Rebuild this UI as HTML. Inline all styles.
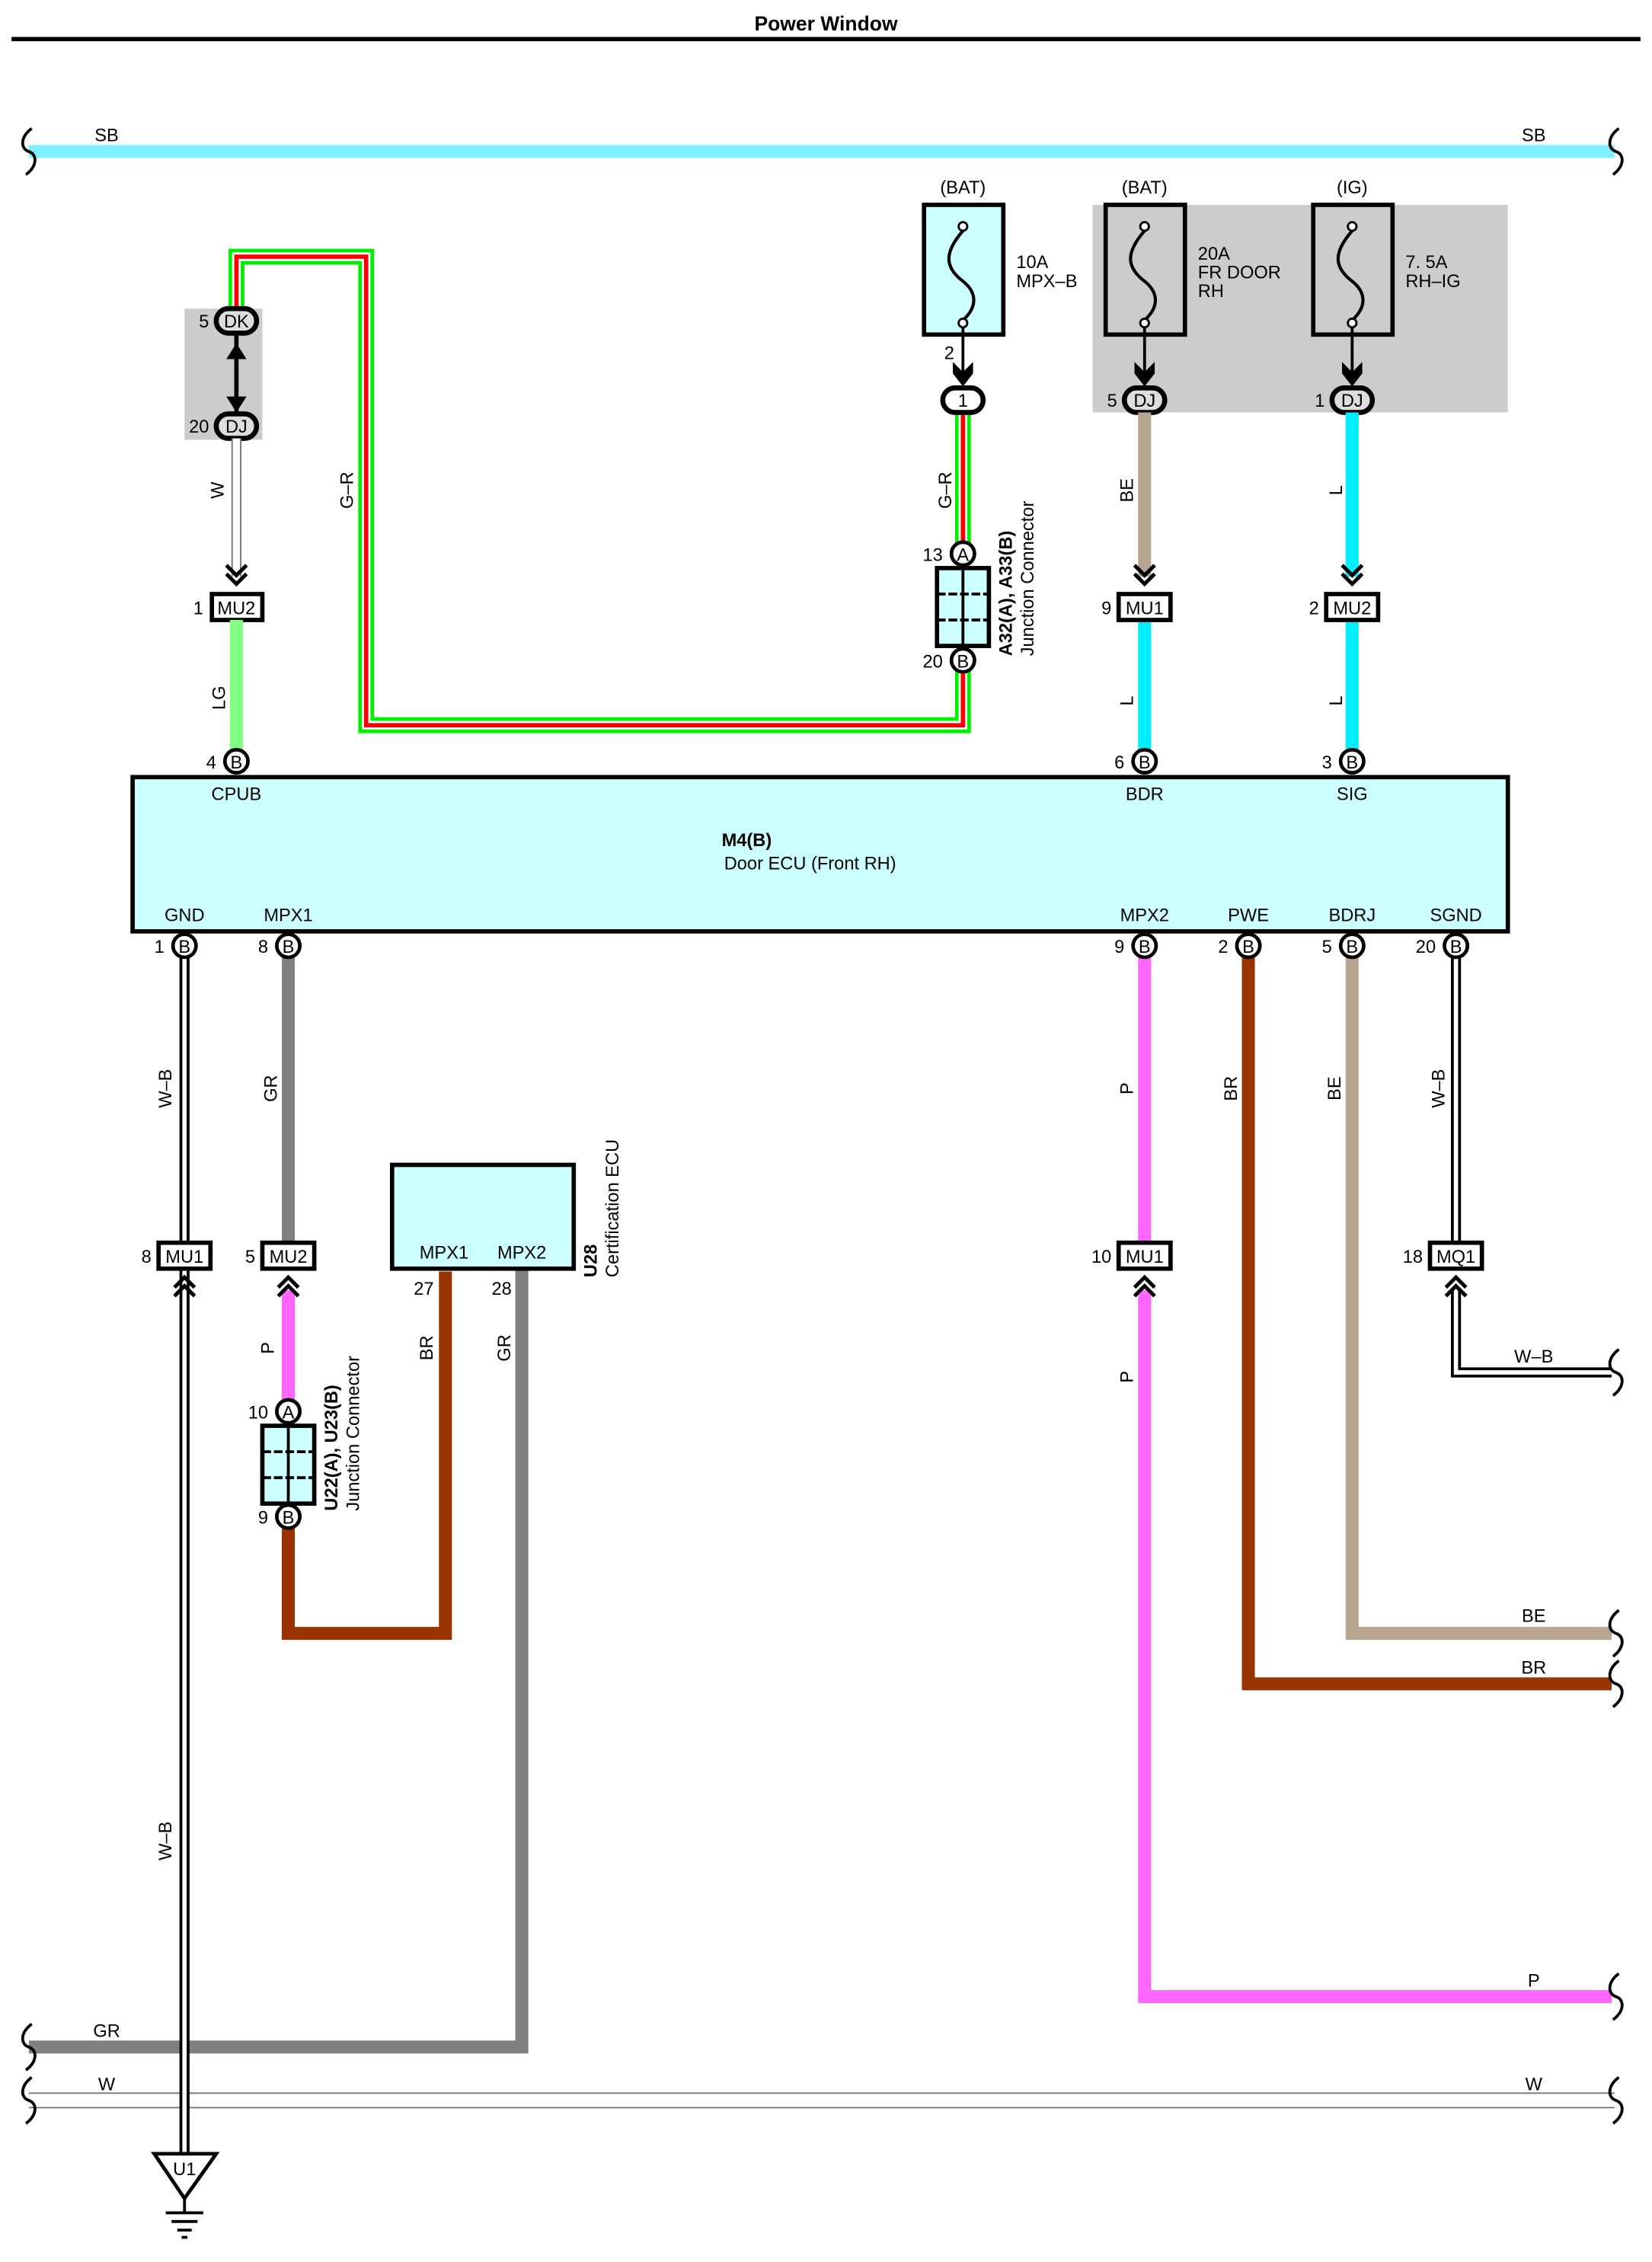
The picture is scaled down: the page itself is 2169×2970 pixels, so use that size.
<!DOCTYPE html>
<html><head><meta charset="utf-8"><style>
html,body{margin:0;padding:0;background:#fff}
svg{display:block}
text{font-family:"Liberation Sans",Arial,sans-serif;font-size:12.5px;fill:#000}
</style></head><body>
<svg width="2169" height="2970" viewBox="0 0 1146 1569" xmlns="http://www.w3.org/2000/svg">
<defs>
<g id="chevD"><path d="M-7,-8 L0,-1 L7,-8 M-7,-2 L0,5 L7,-2" fill="none" stroke="#000" stroke-width="2.6"/></g>
<g id="chevU"><path d="M-7,8 L0,1 L7,8 M-7,2 L0,-5 L7,2" fill="none" stroke="#000" stroke-width="2.6"/></g>
<g id="sq"><path d="M2,-16 C-6,-10 -6,-2 0,0 C6,2 6,10 -2,16" fill="none" stroke="#000" stroke-width="2"/></g>
</defs>
<text x="573" y="21" text-anchor="middle" style="font-weight:bold;font-size:14px">Power Window</text>
<line x1="8" y1="27" x2="1138" y2="27" stroke="#000" stroke-width="3"/>

<line x1="20" y1="105" x2="1120" y2="105" stroke="#80f0ff" stroke-width="9"/>
<use href="#sq" x="20" y="105"/><use href="#sq" x="1121" y="105"/>
<text x="74" y="98" text-anchor="middle">SB</text><text x="1064" y="98" text-anchor="middle">SB</text>

<rect x="128" y="214" width="54" height="91" fill="#cccccc"/>
<rect x="758" y="142" width="288" height="144" fill="#cccccc"/>

<g fill="none" stroke-linejoin="miter">
<path d="M164,214 V178 H254 V503 H668 V458" stroke="#00ee00" stroke-width="11"/>
<path d="M164,214 V178 H254 V503 H668 V458" stroke="#fff" stroke-width="6"/>
<path d="M164,214 V178 H254 V503 H668 V458" stroke="#ff0000" stroke-width="3"/>
<path d="M668,285 V384" stroke="#00ee00" stroke-width="11"/>
<path d="M668,285 V384" stroke="#fff" stroke-width="6"/>
<path d="M668,285 V384" stroke="#ff0000" stroke-width="3"/>
</g>
<text transform="translate(245,340) rotate(-90)" text-anchor="middle">G–R</text>
<text transform="translate(660,340) rotate(-90)" text-anchor="middle">G–R</text>

<line x1="164" y1="232" x2="164" y2="287" stroke="#000" stroke-width="3"/>
<path d="M157,249 L164,238 L171,249 Z M157,275 L164,286 L171,275 Z" fill="#000"/>
<rect x="150" y="214" width="28" height="17" rx="8.5" fill="#ddd" stroke="#000" stroke-width="3.5"/>
<text x="164" y="227" text-anchor="middle">DK</text><text x="145" y="227" text-anchor="end">5</text>
<rect x="150" y="287" width="28" height="17" rx="8.5" fill="#ddd" stroke="#000" stroke-width="3.5"/>
<text x="164" y="300" text-anchor="middle">DJ</text><text x="145" y="300" text-anchor="end">20</text>

<line x1="164" y1="304" x2="164" y2="400" stroke="#777" stroke-width="7"/>
<line x1="164" y1="304" x2="164" y2="400" stroke="#fff" stroke-width="5"/>
<text transform="translate(155,340) rotate(-90)" text-anchor="middle">W</text>
<use href="#chevD" x="164" y="400"/>
<rect x="147" y="412" width="35" height="18" fill="#fff" stroke="#000" stroke-width="3"/>
<text x="164" y="426" text-anchor="middle">MU2</text><text x="141" y="426" text-anchor="end">1</text>
<line x1="164" y1="430" x2="164" y2="520" stroke="#80ff80" stroke-width="9"/>
<text transform="translate(156,484) rotate(-90)" text-anchor="middle">LG</text>

<g stroke="#000" stroke-width="3">
<rect x="641" y="142" width="55" height="90" fill="#ccffff"/>
<rect x="767" y="142" width="55" height="90" fill="#cccccc"/>
<rect x="911" y="142" width="55" height="90" fill="#cccccc"/>
</g>
<g fill="none" stroke="#000" stroke-width="2.2">
<path d="M668,160 C655,175 655,185 668,195 C678,203 678,213 668,222"/>
<path d="M794,160 C781,175 781,185 794,195 C804,203 804,213 794,222"/>
<path d="M938,160 C925,175 925,185 938,195 C948,203 948,213 938,222"/>
</g>
<g fill="#fff" stroke="#000" stroke-width="1.5">
<circle cx="668" cy="157" r="3"/><circle cx="668" cy="224" r="3"/>
<circle cx="794" cy="157" r="3"/><circle cx="794" cy="224" r="3"/>
<circle cx="938" cy="157" r="3"/><circle cx="938" cy="224" r="3"/>
</g>
<g stroke="#000" stroke-width="2">
<line x1="668" y1="227" x2="668" y2="262"/><line x1="794" y1="227" x2="794" y2="262"/><line x1="938" y1="227" x2="938" y2="262"/>
</g>
<g fill="#000">
<path d="M661,251 L668,258 L675,251 L675,259 L668,268 L661,259Z"/>
<path d="M787,251 L794,258 L801,251 L801,259 L794,268 L787,259Z"/>
<path d="M931,251 L938,258 L945,251 L945,259 L938,268 L931,259Z"/>
</g>
<text x="668" y="134" text-anchor="middle">(BAT)</text>
<text x="794" y="134" text-anchor="middle">(BAT)</text>
<text x="938" y="134" text-anchor="middle">(IG)</text>
<text x="705" y="186">10A</text><text x="705" y="199">MPX–B</text>
<text x="831" y="180">20A</text><text x="831" y="193">FR DOOR</text><text x="831" y="206">RH</text>
<text x="975" y="186">7. 5A</text><text x="975" y="199">RH–IG</text>
<text x="662" y="249" text-anchor="end">2</text>

<rect x="654" y="269" width="28" height="17" rx="8.5" fill="#fff" stroke="#000" stroke-width="3.5"/>
<text x="668" y="282" text-anchor="middle">1</text>
<rect x="780" y="269" width="28" height="17" rx="8.5" fill="#ddd" stroke="#000" stroke-width="3.5"/>
<text x="794" y="282" text-anchor="middle">DJ</text><text x="775" y="282" text-anchor="end">5</text>
<rect x="924" y="269" width="28" height="17" rx="8.5" fill="#ddd" stroke="#000" stroke-width="3.5"/>
<text x="938" y="282" text-anchor="middle">DJ</text><text x="919" y="282" text-anchor="end">1</text>

<rect x="650" y="394" width="36" height="54" fill="#ccffff" stroke="#000" stroke-width="3"/>
<line x1="668" y1="394" x2="668" y2="448" stroke="#000" stroke-width="2"/>
<line x1="650" y1="412" x2="686" y2="412" stroke="#000" stroke-width="2" stroke-dasharray="6,2"/>
<line x1="650" y1="430" x2="686" y2="430" stroke="#000" stroke-width="2" stroke-dasharray="6,2"/>
<circle cx="668" cy="384" r="8" fill="#fff" stroke="#000" stroke-width="2.5"/><text x="668" y="389" text-anchor="middle">A</text><text x="654" y="389" text-anchor="end">13</text>
<circle cx="668" cy="458" r="8" fill="#fff" stroke="#000" stroke-width="2.5"/><text x="668" y="463" text-anchor="middle">B</text><text x="654" y="463" text-anchor="end">20</text>
<text transform="translate(702,455) rotate(-90)" style="font-weight:bold">A32(A), A33(B)</text>
<text transform="translate(717,455) rotate(-90)">Junction Connector</text>

<line x1="794" y1="286" x2="794" y2="400" stroke="#b8a590" stroke-width="9"/>
<line x1="938" y1="286" x2="938" y2="400" stroke="#00eeff" stroke-width="9"/>
<text transform="translate(786,340) rotate(-90)" text-anchor="middle">BE</text>
<text transform="translate(931,340) rotate(-90)" text-anchor="middle">L</text>
<use href="#chevD" x="794" y="400"/><use href="#chevD" x="938" y="400"/>
<line x1="794" y1="430" x2="794" y2="520" stroke="#00eeff" stroke-width="9"/>
<line x1="938" y1="430" x2="938" y2="520" stroke="#00eeff" stroke-width="9"/>
<text transform="translate(786,486) rotate(-90)" text-anchor="middle">L</text>
<text transform="translate(931,486) rotate(-90)" text-anchor="middle">L</text>
<rect x="776" y="412" width="36" height="18" fill="#fff" stroke="#000" stroke-width="3"/>
<text x="794" y="426" text-anchor="middle">MU1</text><text x="771" y="426" text-anchor="end">9</text>
<rect x="920" y="412" width="36" height="18" fill="#fff" stroke="#000" stroke-width="3"/>
<text x="938" y="426" text-anchor="middle">MU2</text><text x="915" y="426" text-anchor="end">2</text>

<g fill="none" stroke-linejoin="miter">
<path d="M200,664 V862" stroke="#808080" stroke-width="9"/>
<path d="M200,895 V975" stroke="#ff66ff" stroke-width="9"/>
<path d="M200,1060 V1133 H309 V882" stroke="#993300" stroke-width="9"/>
<path d="M362,880 V1420 H20" stroke="#808080" stroke-width="9"/>
<path d="M20,1457 H1120" stroke="#777" stroke-width="11"/>
<path d="M20,1457 H1120" stroke="#fff" stroke-width="9"/>
<path d="M794,664 V862" stroke="#ff66ff" stroke-width="9"/>
<path d="M794,895 V1385 H1118" stroke="#ff66ff" stroke-width="9"/>
<path d="M866,664 V1168 H1118" stroke="#993300" stroke-width="9"/>
<path d="M938,664 V1133 H1118" stroke="#b8a590" stroke-width="9"/>
<path d="M1010,664 V862" stroke="#000" stroke-width="7"/>
<path d="M1010,664 V862" stroke="#fff" stroke-width="3"/>
<path d="M1010,895 V952 H1118" stroke="#000" stroke-width="7"/>
<path d="M1010,895 V952 H1118" stroke="#fff" stroke-width="3"/>
<path d="M128,664 V1495" stroke="#000" stroke-width="7"/>
<path d="M128,664 V1495" stroke="#fff" stroke-width="3"/>
</g>
<use href="#sq" x="20" y="1420"/><use href="#sq" x="20" y="1457"/>
<use href="#sq" x="1121" y="952"/><use href="#sq" x="1121" y="1133"/><use href="#sq" x="1121" y="1168"/><use href="#sq" x="1121" y="1385"/><use href="#sq" x="1121" y="1457"/>

<text transform="translate(119,755) rotate(-90)" text-anchor="middle">W–B</text>
<text transform="translate(119,1277) rotate(-90)" text-anchor="middle">W–B</text>
<text transform="translate(192,755) rotate(-90)" text-anchor="middle">GR</text>
<text transform="translate(190,935) rotate(-90)" text-anchor="middle">P</text>
<text transform="translate(300,935) rotate(-90)" text-anchor="middle">BR</text>
<text transform="translate(354,935) rotate(-90)" text-anchor="middle">GR</text>
<text transform="translate(786,755) rotate(-90)" text-anchor="middle">P</text>
<text transform="translate(786,955) rotate(-90)" text-anchor="middle">P</text>
<text transform="translate(858,755) rotate(-90)" text-anchor="middle">BR</text>
<text transform="translate(930,755) rotate(-90)" text-anchor="middle">BE</text>
<text transform="translate(1002,755) rotate(-90)" text-anchor="middle">W–B</text>
<text x="74" y="1413" text-anchor="middle">GR</text>
<text x="74" y="1450" text-anchor="middle">W</text><text x="1064" y="1450" text-anchor="middle">W</text>
<text x="1064" y="945" text-anchor="middle">W–B</text>
<text x="1064" y="1125" text-anchor="middle">BE</text>
<text x="1064" y="1161" text-anchor="middle">BR</text>
<text x="1064" y="1378" text-anchor="middle">P</text>

<g>
<rect x="110" y="862" width="36" height="18" fill="#fff" stroke="#000" stroke-width="3"/>
<text x="128" y="876" text-anchor="middle">MU1</text><text x="105" y="876" text-anchor="end">8</text>
<use href="#chevU" x="128" y="891"/>
<rect x="182" y="862" width="36" height="18" fill="#fff" stroke="#000" stroke-width="3"/>
<text x="200" y="876" text-anchor="middle">MU2</text><text x="177" y="876" text-anchor="end">5</text>
<use href="#chevU" x="200" y="891"/>
<rect x="776" y="862" width="36" height="18" fill="#fff" stroke="#000" stroke-width="3"/>
<text x="794" y="876" text-anchor="middle">MU1</text><text x="771" y="876" text-anchor="end">10</text>
<use href="#chevU" x="794" y="891"/>
<rect x="992" y="862" width="36" height="18" fill="#fff" stroke="#000" stroke-width="3"/>
<text x="1010" y="876" text-anchor="middle">MQ1</text><text x="987" y="876" text-anchor="end">18</text>
<use href="#chevU" x="1010" y="891"/>
</g>

<rect x="182" y="989" width="36" height="54" fill="#ccffff" stroke="#000" stroke-width="3"/>
<line x1="200" y1="989" x2="200" y2="1043" stroke="#000" stroke-width="2"/>
<line x1="182" y1="1007" x2="218" y2="1007" stroke="#000" stroke-width="2" stroke-dasharray="6,2"/>
<line x1="182" y1="1025" x2="218" y2="1025" stroke="#000" stroke-width="2" stroke-dasharray="6,2"/>
<circle cx="200" cy="979" r="8" fill="#fff" stroke="#000" stroke-width="2.5"/><text x="200" y="984" text-anchor="middle">A</text><text x="186" y="984" text-anchor="end">10</text>
<circle cx="200" cy="1052" r="8" fill="#fff" stroke="#000" stroke-width="2.5"/><text x="200" y="1057" text-anchor="middle">B</text><text x="186" y="1057" text-anchor="end">9</text>
<text transform="translate(234,1048) rotate(-90)" style="font-weight:bold">U22(A), U23(B)</text>
<text transform="translate(249,1048) rotate(-90)">Junction Connector</text>

<rect x="272" y="808" width="126" height="72" fill="#ccffff" stroke="#000" stroke-width="3"/>
<text x="308" y="873" text-anchor="middle">MPX1</text><text x="362" y="873" text-anchor="middle">MPX2</text>
<text x="294" y="898" text-anchor="middle">27</text><text x="348" y="898" text-anchor="middle">28</text>
<text transform="translate(414,886) rotate(-90)" style="font-weight:bold">U28</text>
<text transform="translate(429,886) rotate(-90)">Certification ECU</text>

<path d="M107,1494 L150,1494 L128,1525 Z" fill="#fff" stroke="#000" stroke-width="2.5"/>
<text x="128" y="1509" text-anchor="middle">U1</text>
<g stroke="#000" stroke-width="2"><line x1="128" y1="1525" x2="128" y2="1535"/><line x1="115" y1="1535" x2="141" y2="1535"/><line x1="119" y1="1541" x2="137" y2="1541"/><line x1="123" y1="1547" x2="133" y2="1547"/><line x1="126" y1="1552" x2="130" y2="1552"/></g>

<rect x="92" y="539" width="954" height="107" fill="#ccffff" stroke="#000" stroke-width="3"/>
<text x="518" y="587" text-anchor="middle" style="font-weight:bold">M4(B)</text>
<text x="562" y="603" text-anchor="middle">Door ECU (Front RH)</text>
<text x="164" y="555" text-anchor="middle">CPUB</text><text x="794" y="555" text-anchor="middle">BDR</text><text x="938" y="555" text-anchor="middle">SIG</text>
<text x="128" y="639" text-anchor="middle">GND</text><text x="200" y="639" text-anchor="middle">MPX1</text><text x="794" y="639" text-anchor="middle">MPX2</text><text x="866" y="639" text-anchor="middle">PWE</text><text x="938" y="639" text-anchor="middle">BDRJ</text><text x="1010" y="639" text-anchor="middle">SGND</text>
<g fill="#fff" stroke="#000" stroke-width="2.5">
<circle cx="164" cy="528" r="8"/><circle cx="794" cy="528" r="8"/><circle cx="938" cy="528" r="8"/>
<circle cx="128" cy="656" r="8"/><circle cx="200" cy="656" r="8"/><circle cx="794" cy="656" r="8"/><circle cx="866" cy="656" r="8"/><circle cx="938" cy="656" r="8"/><circle cx="1010" cy="656" r="8"/>
</g>
<g text-anchor="middle">
<text x="164" y="533">B</text><text x="794" y="533">B</text><text x="938" y="533">B</text>
<text x="128" y="661">B</text><text x="200" y="661">B</text><text x="794" y="661">B</text><text x="866" y="661">B</text><text x="938" y="661">B</text><text x="1010" y="661">B</text>
</g>
<g text-anchor="end">
<text x="150" y="533">4</text><text x="780" y="533">6</text><text x="924" y="533">3</text>
<text x="114" y="661">1</text><text x="186" y="661">8</text><text x="780" y="661">9</text><text x="852" y="661">2</text><text x="924" y="661">5</text><text x="996" y="661">20</text>
</g>
</svg>
</body></html>
